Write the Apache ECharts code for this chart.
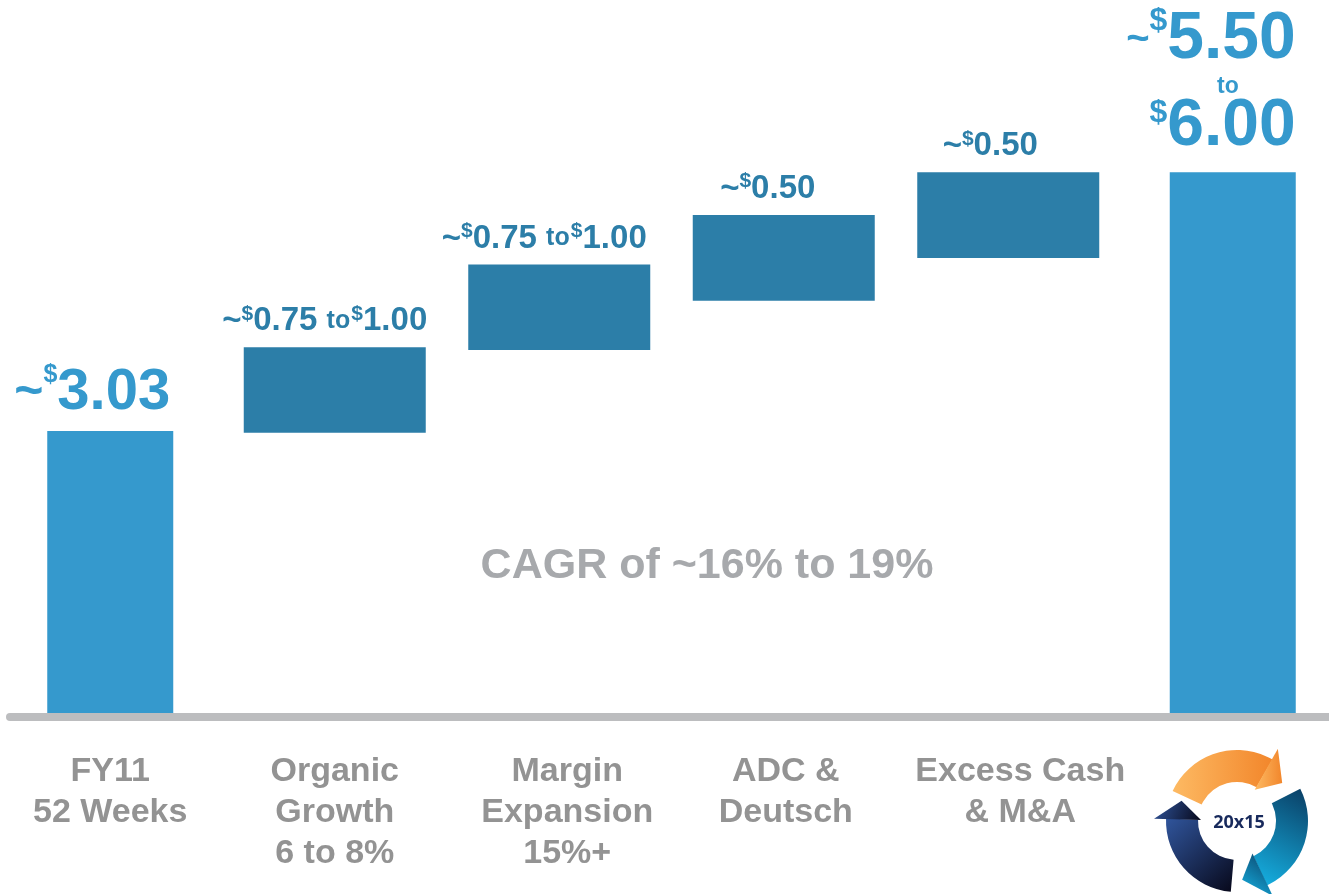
<!DOCTYPE html>
<html><head><meta charset="utf-8">
<script src="https://cdn.jsdelivr.net/npm/echarts@6/dist/echarts.min.js"></script>
<style>html,body{margin:0;padding:0;background:#fff}#c{width:1329px;height:894px}</style>
</head><body><div id="c"></div>
<script>
// ---- data ----
const categories = ['FY11\n52 Weeks', 'Organic\nGrowth\n6 to 8%', 'Margin\nExpansion\n15%+', 'ADC &\nDeutsch', 'Excess Cash\n& M&A', ''];
const stepLow  = ['-', 3.01, 3.90, 4.43, 4.89, '-'];
const stepHigh = ['-', 3.93, 4.82, 5.35, 5.81, '-'];
const totals   = [3.03, '-', '-', '-', '-', 5.81];
const stepLabels  = ['', '~$0.75 to $1.00', '~$0.75 to $1.00', '~$0.50', '~$0.50', ''];
const totalLabels = ['~$3.03', '', '', '', '', '~$5.50\nto\n$6.00'];
const noteText = 'CAGR of ~16% to 19%';
const logoText = '20x15';

// ---- styling ----
const FONT = '"Liberation Sans", Arial, sans-serif';
const C_TOTAL = '#3599cd';
const C_STEP = '#2c7ea8';
const C_CAT = '#939393';
const stepShift = [0, -10, -15, -16, -18, 0];
const catShift = [0, 0, 16, 4, 24, 0];

function richify(text, prefixes) {
  return text.split('\n').map((line, li) => {
    const p = prefixes[Math.min(li, prefixes.length - 1)];
    const toks = line.match(/~|\$|\d+\.\d+|to|\s+/g) || [];
    let prev = '';
    return toks.map(t => {
      let s;
      if (t === '~') s = `{${p}t|~}`;
      else if (t === '$') s = `{${p}s|$}`;
      else if (t === 'to') s = `{${p}o|to}`;
      else if (/^\s+$/.test(t)) s = /\d/.test(prev) ? `{${p}n| }` : `{${p}w| }`;
      else s = `{${p}n|${t}}`;
      prev = t;
      return s;
    }).join('');
  }).join('\n');
}
function tk(color, fontSize, lineHeight, va, extra) {
  return Object.assign({color, fontFamily: FONT, fontWeight: 'bold', fontSize, lineHeight, verticalAlign: va}, extra || {});
}
const stepRich = {
  fn: tk(C_STEP, 33, 36, 'middle'),
  ft: tk(C_STEP, 33, 36, 'middle'),
  fs: tk(C_STEP, 21, 30, 'top'),
  fo: tk(C_STEP, 25, 36, 'middle'),
  fw: tk(C_STEP, 4, 30, 'middle')
};
const totalRich = {
  an: tk(C_TOTAL, 58, 60, 'middle'),
  at: tk(C_TOTAL, 50, 60, 'middle'),
  as: tk(C_TOTAL, 25, 39, 'top'),
  bn: tk(C_TOTAL, 66, 70, 'middle'),
  bt: tk(C_TOTAL, 40, 70, 'middle'),
  bs: tk(C_TOTAL, 32, 45, 'top'),
  mo: tk(C_TOTAL, 23, 22, 'middle', {padding: [0, 57, 0, 0]}),
  cn: tk(C_TOTAL, 66, 60, 'middle'),
  cs: tk(C_TOTAL, 32, 38, 'top')
};

const stepData = stepHigh.map((h, i) => h === '-' ? '-' : {
  value: +(h - stepLow[i]).toFixed(2),
  label: {offset: [stepShift[i], 0]}
});
const totalData = totals.map((v, i) => {
  if (v === '-') return '-';
  if (i === 0) return {value: v, label: {distance: 8, offset: [-18, 0]}};
  return {value: v, label: {distance: 15, align: 'right', offset: [63, 0]}};
});
const catData = categories.map((c, i) => ({value: c, textStyle: {padding: [0, 0, 0, catShift[i]]}}));

// ---- logo (decoration) ----
const LX = 1237, LY = 821, R0 = 39, R1 = 71;
const rad = d => d * Math.PI / 180;
function pt(a, r) { return [LX + r * Math.cos(rad(a)), LY + r * Math.sin(rad(a))]; }
function arrow(a0, a1, a2, grad) {
  const mid = (R0 + R1) / 2 + 4;
  return [
    {type: 'sector', shape: {cx: LX, cy: LY, r0: R0, r: R1, startAngle: rad(a0), endAngle: rad(a1), clockwise: true}, style: {fill: grad}, silent: true},
    {type: 'polygon', shape: {points: [pt(a1 - 0.5, R0 - 3), pt(a1 - 0.5, R1 + 12), pt(a2, mid)]}, style: {fill: grad}, silent: true}
  ];
}
const LG = echarts.graphic.LinearGradient;
const gOrange = new LG(0, 0, 1, 0, [{offset: 0, color: '#fdba63'}, {offset: 1, color: '#f2862b'}]);
const gTeal = new LG(1, 0, 0, 1, [{offset: 0, color: '#0a3d63'}, {offset: 1, color: '#16b4e6'}]);
const gNavy = new LG(0, 0, 1, 1, [{offset: 0, color: '#30559c'}, {offset: 1, color: '#07081a'}]);
const logo = [].concat(
  arrow(205, 300, 320, gOrange),
  arrow(333, 425, 445, gTeal),
  arrow(95, 182, 200, gNavy),
  [{type: 'text', x: LX + 2, y: LY + 2, silent: true,
    style: {text: logoText, fill: '#182a5c', font: 'bold 18px "Noto Sans", sans-serif', textAlign: 'center', textVerticalAlign: 'middle'}}]
);

const option = {
  animation: false,
  backgroundColor: '#ffffff',
  grid: [
    {left: -2, right: -16, top: 0, bottom: 181, outerBoundsMode: 'none', containLabel: false},
    {left: 10, right: 0, top: 0, bottom: 177, outerBoundsMode: 'none', containLabel: false}
  ],
  xAxis: [
    {type: 'category', gridIndex: 0, data: catData,
     axisLine: {show: false}, axisTick: {show: false}, splitLine: {show: false},
     axisLabel: {interval: 0, color: C_CAT, fontFamily: FONT, fontWeight: 'bold', fontSize: 34, lineHeight: 41, margin: 38}},
    {type: 'category', gridIndex: 0, data: categories, show: false},
    {type: 'category', gridIndex: 1, data: [''],
     axisLine: {show: true, lineStyle: {color: '#bcbdbf', width: 8}}, axisTick: {show: false}, axisLabel: {show: false}}
  ],
  yAxis: [
    {type: 'value', gridIndex: 0, min: 0, max: 7.661, show: false},
    {type: 'value', gridIndex: 1, min: 0, max: 1, show: false}
  ],
  series: [
    {name: 'base', type: 'bar', stack: 'w', xAxisIndex: 0, yAxisIndex: 0, barWidth: 182,
     itemStyle: {color: 'transparent'}, silent: true, data: stepLow},
    {name: 'step', type: 'bar', stack: 'w', xAxisIndex: 0, yAxisIndex: 0, barWidth: 182,
     itemStyle: {color: C_STEP},
     label: {show: true, position: 'top', distance: 8,
       formatter: p => richify(stepLabels[p.dataIndex], ['f']), rich: stepRich},
     data: stepData},
    {name: 'total', type: 'bar', xAxisIndex: 1, yAxisIndex: 0, barWidth: 126,
     itemStyle: {color: C_TOTAL},
     label: {show: true, position: 'top',
       formatter: p => richify(totalLabels[p.dataIndex], p.dataIndex === 0 ? ['a'] : ['b', 'm', 'c']), rich: totalRich},
     data: totalData}
  ],
  graphic: [
    {type: 'text', x: 707, y: 566, silent: true,
     style: {text: noteText, fill: '#a7a9ac', font: 'bold 43px "Liberation Sans", Arial, sans-serif', textAlign: 'center', textVerticalAlign: 'middle'}}
  ].concat(logo)
};

const chart = echarts.init(document.getElementById('c'));
chart.setOption(option);
</script>
</body></html>
